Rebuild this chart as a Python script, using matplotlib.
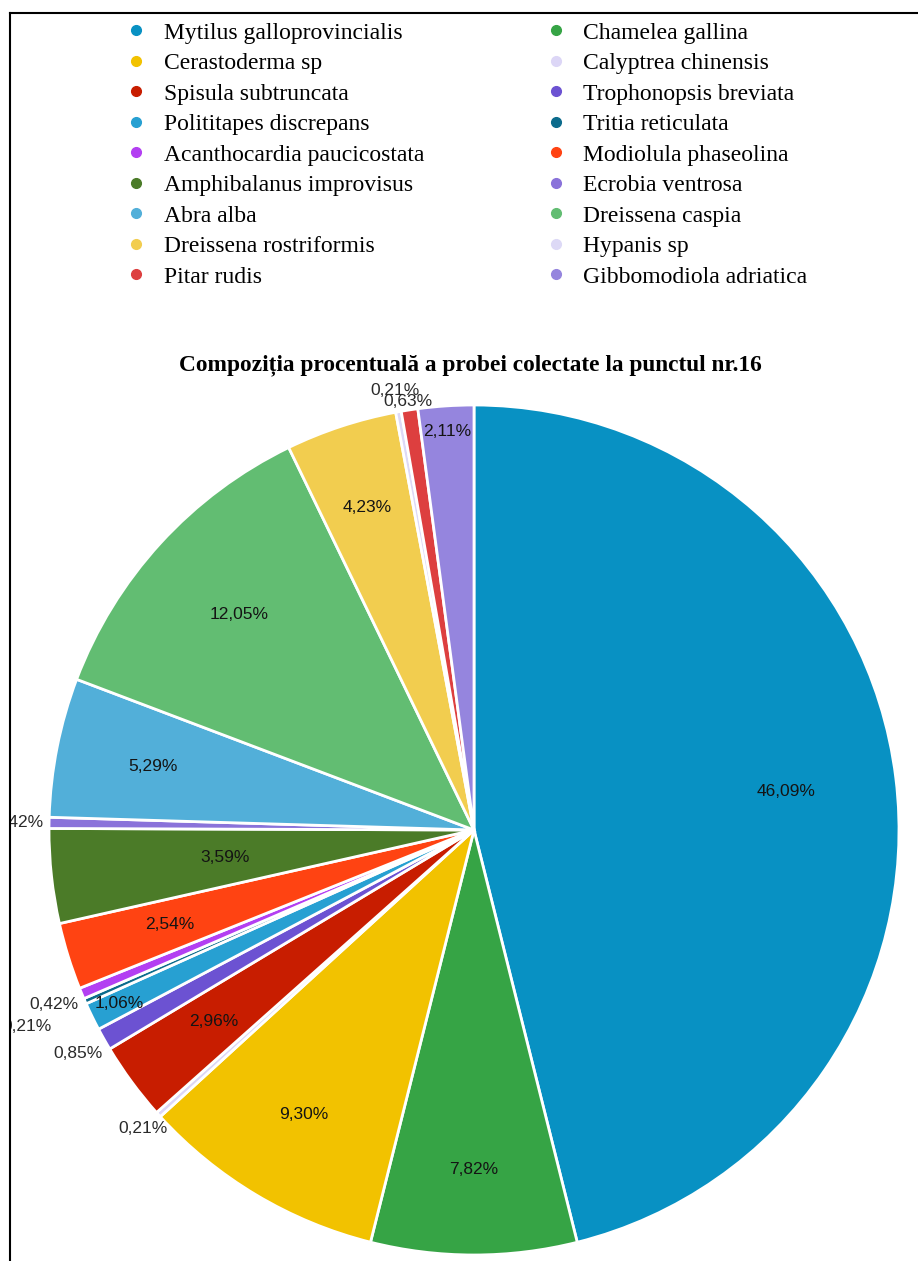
import matplotlib.pyplot as plt
import numpy as np
from matplotlib.lines import Line2D
from matplotlib.patches import Rectangle

# Specii si procente (in ordinea feliilor, in sensul acelor de ceasornic)
species = [
    "Mytilus galloprovincialis", "Chamelea gallina",
    "Cerastoderma sp", "Calyptrea chinensis",
    "Spisula subtruncata", "Trophonopsis breviata",
    "Polititapes discrepans", "Tritia reticulata",
    "Acanthocardia paucicostata", "Modiolula phaseolina",
    "Amphibalanus improvisus", "Ecrobia ventrosa",
    "Abra alba", "Dreissena caspia",
    "Dreissena rostriformis", "Hypanis sp",
    "Pitar rudis", "Gibbomodiola adriatica",
]
percent = [46.09, 7.82, 9.30, 0.21, 2.96, 0.85, 1.06, 0.21, 0.42,
           2.54, 3.59, 0.42, 5.29, 12.05, 4.23, 0.21, 0.63, 2.11]
colors = [
    "#0891c3", "#36a445", "#f2c200", "#dcd6f6", "#c81d00", "#6c52d2",
    "#27a0d2", "#0b6b8c", "#b33ff2", "#ff4312", "#4b7b28", "#8a72da",
    "#52afd9", "#62bd72", "#f2cd4f", "#ddd9f6", "#dd3f3f", "#9585de",
]
title = "Compoziția procentuală a probei colectate la punctul nr.16"

# distanta etichetelor fata de centru (fractie din raza)
label_r = [0.74, 0.80, 0.78, 1.05, 0.76, 1.07, 0.93, 1.15, 1.07,
           0.75, 0.59, 1.07, 0.77, 0.75, 0.80, 1.05, 1.02, 0.94]

fig = plt.figure(figsize=(9.18, 12.61), dpi=100)

# Placinta
ax = fig.add_axes([49 / 918, 6 / 1261, 850 / 918, 850 / 1261])
wedges, _ = ax.pie(percent, colors=colors, startangle=90, counterclock=False,
                   wedgeprops=dict(edgecolor="white", linewidth=2))
ax.set_xlim(-1, 1)
ax.set_ylim(-1, 1)

for w, p, r in zip(wedges, percent, label_r):
    ang = np.deg2rad((w.theta1 + w.theta2) / 2)
    txt = f"{p:.2f}%".replace(".", ",")
    ax.text(r * np.cos(ang), r * np.sin(ang), txt, ha="center", va="center",
            fontsize=12.5, family="Liberation Sans",
            color="#141414" if r < 1 else "#2a2a2a")

# Titlu
fig.text(470 / 918, 1 - 365 / 1261, title, ha="center", va="center",
         fontsize=16.8, fontweight="bold", family="Liberation Serif")

# Legenda pe doua coloane
handles = [Line2D([], [], linestyle="none", marker="o", markersize=7,
                  markerfacecolor=c, markeredgecolor=c) for c in colors]
order = list(range(0, len(species), 2)) + list(range(1, len(species), 2))
fig.legend([handles[i] for i in order], [species[i] for i in order],
           ncol=2, loc="upper left", bbox_to_anchor=(127 / 918, 1 - 22 / 1261),
           frameon=False, borderpad=0, borderaxespad=0,
           handlelength=0.8, handletextpad=0.76, labelspacing=0.38,
           columnspacing=5.17,
           prop=dict(family="Liberation Serif", size=17))

# Chenar (sus si stanga); ce iese in stanga ramane ascuns
fig.add_artist(Rectangle((0, 0), 10 / 918, 1, transform=fig.transFigure,
                         facecolor="white", edgecolor="none", zorder=10))
fig.add_artist(Line2D([10 / 918, 1], [1 - 13 / 1261] * 2,
                      transform=fig.transFigure, color="black", lw=1.5, zorder=11))
fig.add_artist(Line2D([10 / 918] * 2, [0, 1 - 13 / 1261],
                      transform=fig.transFigure, color="black", lw=1.5, zorder=11))

fig.savefig("out.png", dpi=100)
